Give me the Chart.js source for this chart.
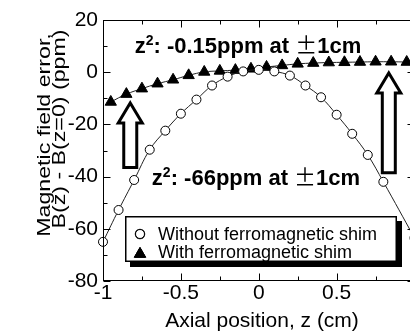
<!DOCTYPE html>
<html lang="en">
<head>
  <meta charset="UTF-8">
  <title>Magnetic field error vs axial position</title>
  <script src="https://cdn.jsdelivr.net/npm/chart.js"></script>
  <style>
    html, body { margin: 0; padding: 0; background: #fff; overflow: hidden; }
    #wrap { position: relative; width: 422px; height: 331px; }
  </style>
</head>
<body>
  <div id="wrap"><canvas id="fieldChart"></canvas></div>

  <script>
    // values: z in cm, field error in ppm
    const zWithout = [-1, -0.9, -0.8, -0.7, -0.6, -0.5, -0.4, -0.3, -0.2, -0.1, 0, 0.1, 0.2, 0.3, 0.4, 0.5, 0.6, 0.7, 0.8, 1.0];
    const errWithout = [-65, -52.8, -41.3, -29.7, -22.4, -15.9, -10.5, -5.1, -1.7, 0.3, 0.9, 0.3, -1.3, -5.1, -9.6, -16.3, -23.6, -31.7, -42.0, -63.5];
    const zWith = [-0.95, -0.85, -0.75, -0.65, -0.55, -0.45, -0.35, -0.25, -0.15, -0.05, 0.05, 0.15, 0.25, 0.35, 0.45, 0.55, 0.65, 0.75, 0.85, 0.95];
    const errWith = [-11.4, -8.4, -6.3, -4.4, -2.9, -1.2, 0.1, 0.5, 0.8, 1.3, 2.0, 2.6, 3.2, 3.5, 3.7, 3.8, 3.9, 4.0, 4.0, 3.9];
    const seriesNames = ['Without ferromagnetic shim', 'With ferromagnetic shim'];
    const xTicks = [-1, -0.5, 0, 0.5, 1];
    const yTicks = [-80, -60, -40, -20, 0, 20];

    const FONT = '"Liberation Sans", Arial, sans-serif';

    const toPoints = (xs, ys) => xs.map((x, i) => ({ x: x, y: ys[i] }));

    // frame, inward ticks, arrows, notes, legend box and titles
    const decorations = {
      id: 'decorations',
      afterDraw(chart) {
        const { ctx, chartArea: a, scales: { x, y } } = chart;
        const L = Math.round(a.left) + 0.5, R = Math.round(a.right) - 0.5;
        const T = Math.round(a.top) + 0.5, B = Math.round(a.bottom) - 0.5;
        ctx.save();
        ctx.strokeStyle = '#000';
        ctx.lineWidth = 1;
        ctx.strokeRect(L, T, R - L, B - T);

        // ticks pointing in, on all four sides
        ctx.beginPath();
        const mid = arr => arr.slice(1).map((v, i) => (v + arr[i]) / 2);
        const xt = (vals, len) => vals.forEach(v => {
          const px = Math.round(x.getPixelForValue(v)) + 0.5;
          ctx.moveTo(px, B); ctx.lineTo(px, B - len);
          ctx.moveTo(px, T); ctx.lineTo(px, T + len);
        });
        const yt = (vals, len) => vals.forEach(v => {
          const py = Math.round(y.getPixelForValue(v)) + 0.5;
          ctx.moveTo(L, py); ctx.lineTo(L + len, py);
          ctx.moveTo(R, py); ctx.lineTo(R - len, py);
        });
        xt(xTicks, 7); xt(mid(xTicks), 4);
        yt(yTicks, 7); yt(mid(yTicks), 4);
        ctx.stroke();

        // hollow arrows
        const arrow = (xv, tipV, baseV) => {
          const cx = x.getPixelForValue(xv);
          const tip = y.getPixelForValue(tipV), base = y.getPixelForValue(baseV);
          const head = 20, hw = 12, sw = 6.5;
          ctx.beginPath();
          ctx.moveTo(cx, tip);
          ctx.lineTo(cx + hw, tip + head);
          ctx.lineTo(cx + sw, tip + head);
          ctx.lineTo(cx + sw, base);
          ctx.lineTo(cx - sw, base);
          ctx.lineTo(cx - sw, tip + head);
          ctx.lineTo(cx - hw, tip + head);
          ctx.closePath();
          ctx.fillStyle = '#fff';
          ctx.fill();
          ctx.lineWidth = 3;
          ctx.lineJoin = 'miter';
          ctx.stroke();
        };
        arrow(-0.825, -11.8, -36.5);
        arrow(0.835, -0.3, -38.5);

        // bold notes with superscript and plus-minus
        const rich = (segs, cx, baseline) => {
          let w = 0;
          segs.forEach(s => { ctx.font = s.f; s.w = ctx.measureText(s.t).width; w += s.w; });
          let px = cx - w / 2;
          ctx.fillStyle = '#000';
          ctx.textAlign = 'left';
          ctx.textBaseline = 'alphabetic';
          segs.forEach(s => { ctx.font = s.f; ctx.fillText(s.t, px, baseline + (s.dy || 0)); px += s.w; });
        };
        const bold = 'bold 22px ' + FONT;
        const note = value => [
          { t: 'z', f: bold },
          { t: '2', f: 'bold 14px ' + FONT, dy: -8 },
          { t: ': ' + value + 'ppm at ', f: bold },
          { t: '±', f: '22px "Noto Sans CJK JP"' },
          { t: '1cm', f: bold }
        ];
        rich(note('-0.15'), 248, 53);
        rich(note('-66'), 256, 185);

        // legend with drop shadow
        ctx.fillStyle = '#000';
        ctx.fillRect(130, 221, 272, 46);
        ctx.fillStyle = '#fff';
        ctx.fillRect(125, 216, 272, 46);
        ctx.lineWidth = 1.5;
        ctx.strokeRect(125.75, 216.75, 270.5, 44.5);
        chart.data.datasets.forEach((ds, i) => {
          const ly = 234 + i * 18.5;
          Chart.helpers.drawPoint(ctx, {
            pointStyle: ds.pointStyle, radius: ds.pointRadius, borderWidth: 1, rotation: 0
          }, 140, ly + (ds.pointStyle === 'triangle' ? 1.5 : 0));
          ctx.fillStyle = ds.pointBackgroundColor;
          ctx.strokeStyle = '#000';
          ctx.lineWidth = 1;
          ctx.fill();
          ctx.stroke();
          ctx.fillStyle = '#000';
          ctx.font = '18px ' + FONT;
          ctx.textAlign = 'left';
          ctx.textBaseline = 'middle';
          ctx.fillText(ds.label, 158, ly + 1);
        });

        // axis titles
        ctx.fillStyle = '#000';
        ctx.font = '21px ' + FONT;
        ctx.textAlign = 'center';
        ctx.textBaseline = 'alphabetic';
        ctx.fillText('Axial position, z (cm)', 262, 327);
        // y title runs a little long in the original, so stretch along the text
        const k = 1.22;
        ctx.save();
        ctx.rotate(-Math.PI / 2);
        ctx.scale(k, 1);
        ctx.font = '19px ' + FONT;
        ctx.fillText('Magnetic field error,', -135 / k, 50);
        ctx.fillText('B(z) - B(z=0) (ppm)', -129 / k, 65);
        ctx.restore();
        ctx.restore();
      }
    };

    const ctx = document.getElementById('fieldChart').getContext('2d');
    new Chart(ctx, {
      type: 'scatter',
      data: {
        datasets: [
          {
            label: seriesNames[0],
            data: toPoints(zWithout, errWithout),
            showLine: true,
            tension: 0.4,
            borderColor: '#222',
            borderWidth: 1,
            pointStyle: 'circle',
            pointRadius: 4.5,
            pointBackgroundColor: '#fff',
            pointBorderColor: '#000',
            pointBorderWidth: 1,
            clip: false
          },
          {
            label: seriesNames[1],
            data: toPoints(zWith, errWith),
            showLine: true,
            tension: 0.4,
            borderColor: '#222',
            borderWidth: 1,
            pointStyle: 'triangle',
            pointRadius: 6.5,
            pointBackgroundColor: '#000',
            pointBorderColor: '#000',
            pointBorderWidth: 1,
            clip: false
          }
        ]
      },
      options: {
        responsive: true,
        maintainAspectRatio: false,
        animation: false,
        layout: { padding: { top: 20, right: 7, left: 0, bottom: 0 } },
        plugins: {
          legend: { display: false },
          tooltip: { enabled: false }
        },
        scales: {
          x: {
            type: 'linear',
            min: -1,
            max: 1,
            afterBuildTicks: s => { s.ticks = xTicks.map(v => ({ value: v })); },
            afterFit: s => { s.height = 50; },
            grid: { display: false, drawTicks: false },
            border: { display: false },
            ticks: {
              color: '#000', font: { family: FONT, size: 21 }, padding: 0,
              maxRotation: 0, autoSkip: false, callback: v => String(v)
            }
          },
          y: {
            min: -80,
            max: 20,
            afterBuildTicks: s => { s.ticks = yTicks.map(v => ({ value: v })); },
            afterFit: s => { s.width = 103; },
            grid: { display: false, drawTicks: false },
            border: { display: false },
            ticks: { color: '#000', font: { family: FONT, size: 21 }, padding: 5, callback: v => String(v) }
          }
        }
      },
      plugins: [decorations]
    });
  </script>
</body>
</html>
